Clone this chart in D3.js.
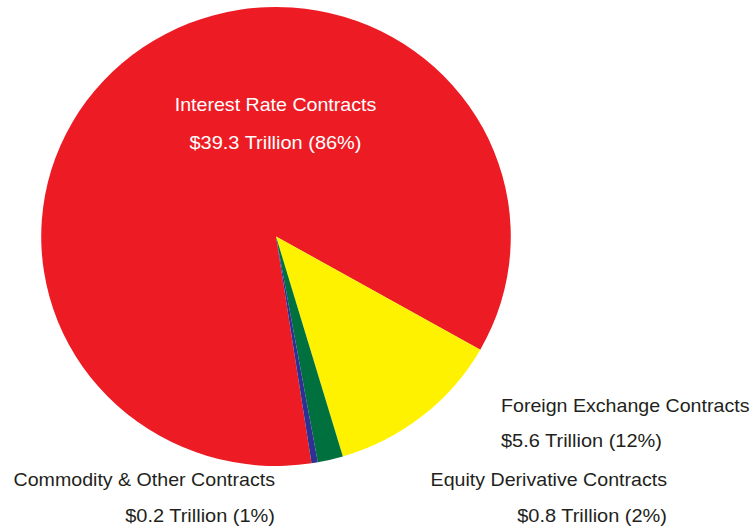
<!DOCTYPE html>
<html>
<head>
<meta charset="utf-8">
<script src="https://cdn.jsdelivr.net/npm/d3@7"></script>
<style>
  html, body { margin: 0; padding: 0; background: #fff; }
  svg { display: block; }
  text { font-family: "Liberation Sans", Arial, Helvetica, sans-serif; }
</style>
</head>
<body>
<div id="chart"></div>
<script>
// Notional amounts of derivative contracts, trillions of dollars
const categories = ["Interest Rate Contracts", "Foreign Exchange Contracts", "Equity Derivative Contracts", "Commodity & Other Contracts"];
const values = [39.3, 5.6, 0.8, 0.2];
const valueLabels = ["$39.3 Trillion (86%)", "$5.6 Trillion (12%)", "$0.8 Trillion (2%)", "$0.2 Trillion (1%)"];
const colors = ["#ED1C24", "#FFF200", "#00703F", "#2E3192"];

const width = 756, height = 529;
const cx = 276, cy = 236.5, r = 229.5, xStretch = 1.023;
const nameStretch = 1.09, valueStretch = 1.11;

const svg = d3.select("#chart").append("svg")
  .attr("width", width).attr("height", height);

const rows = categories.map((c, i) => ({ name: c, value: values[i], label: valueLabels[i], color: colors[i] }));

const startDeg = -188.7;
const pie = d3.pie().sort(null).value(d => d.value)
  .startAngle(startDeg * Math.PI / 180)
  .endAngle((startDeg + 360) * Math.PI / 180);

const arc = d3.arc().innerRadius(0).outerRadius(r);

const g = svg.append("g")
  .attr("transform", `translate(${cx},${cy}) scale(${xStretch},1)`);

g.selectAll("path").data(pie(rows)).join("path")
  .attr("d", arc)
  .attr("fill", d => d.data.color);

// Label placement: [x, first baseline, line gap, anchor, colour]
const labelPos = [
  [275.5, 111, 38, "middle", "#ffffff"],
  [501, 412, 34.5, "start", "#231F20"],
  [667, 486, 35.5, "end", "#231F20"],
  [275, 486, 35.5, "end", "#231F20"]
];

rows.forEach((d, i) => {
  const [x, y, gap, anchor, fill] = labelPos[i];
  [d.name, d.label].forEach((txt, k) => {
    svg.append("text")
      .attr("transform", `translate(${x},${y + k * gap}) scale(${k ? valueStretch : nameStretch},1)`)
      .attr("text-anchor", anchor)
      .attr("fill", fill)
      .style("font-size", "18px")
      .text(txt);
  });
});
</script>
</body>
</html>
